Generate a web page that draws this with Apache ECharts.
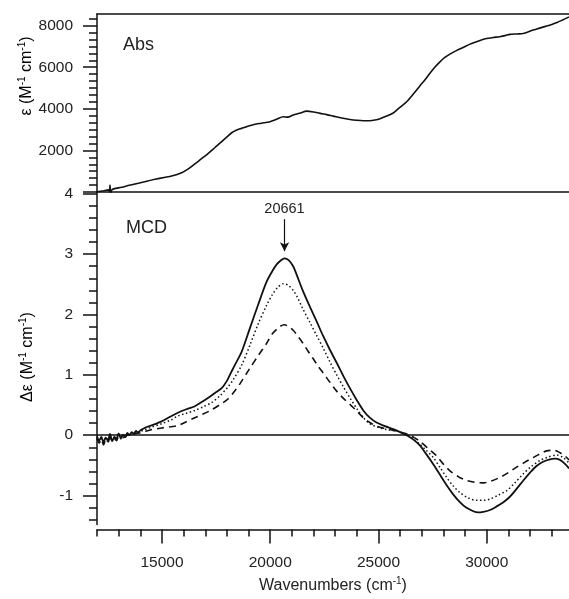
<!DOCTYPE html>
<html><head><meta charset="utf-8">
<script src="https://cdn.jsdelivr.net/npm/echarts@6/dist/echarts.min.js"></script>
<style>html,body{margin:0;padding:0;background:#fff}#c{width:569px;height:599px}</style>
</head><body><div id="c"></div>
<script>
// ---- data (wavenumber cm-1, value) ----
const absData = [[12000,10],[12300,60],[12520,100],[12580,30],[12600,340],[12630,-120],[12700,120],[13140,225],[13500,320],[13910,420],[14300,520],[14680,610],[15100,700],[15450,770],[15910,930],[16200,1100],[16520,1350],[16800,1580],[17140,1860],[17450,2140],[17760,2420],[18000,2650],[18220,2850],[18450,2980],[18680,3060],[19000,3170],[19260,3250],[19600,3310],[19990,3380],[20300,3500],[20600,3620],[20800,3600],[21060,3700],[21400,3800],[21680,3890],[22000,3850],[22300,3780],[22600,3720],[22910,3650],[23300,3560],[23680,3490],[24000,3450],[24300,3430],[24600,3430],[24840,3460],[25070,3520],[25380,3650],[25680,3800],[25840,3940],[26050,4120],[26300,4340],[26600,4700],[26910,5100],[27150,5400],[27370,5700],[27600,6000],[27840,6260],[28050,6460],[28300,6630],[28600,6800],[28910,6950],[29200,7100],[29530,7230],[29750,7310],[29990,7380],[30300,7430],[30600,7470],[30850,7520],[31070,7580],[31400,7600],[31680,7620],[31900,7700],[32140,7790],[32450,7880],[32760,7980],[33000,8060],[33220,8140],[33500,8270],[33800,8420]];

const mcdSolid = [[12000,-0.02],[12100,-0.09],[12200,-0.03],[12300,-0.12],[12400,-0.04],[12500,-0.08],[12600,0.02],[12700,-0.10],[12800,-0.03],[12900,-0.06],[13000,0.03],[13100,-0.05],[13200,0.01],[13300,-0.03],[13400,0.04],[13500,0.00],[13600,0.05],[13700,0.02],[13800,0.07],[13900,0.04],[14000,0.08],[14200,0.12],[14500,0.16],[14990,0.23],[15400,0.31],[15910,0.40],[16200,0.44],[16520,0.48],[16800,0.54],[17140,0.62],[17450,0.70],[17760,0.78],[18000,0.90],[18220,1.06],[18450,1.22],[18680,1.38],[19060,1.77],[19450,2.17],[19830,2.54],[20100,2.72],[20300,2.83],[20500,2.90],[20661,2.93],[20850,2.90],[21060,2.80],[21220,2.66],[21500,2.40],[21830,2.13],[22150,1.88],[22450,1.64],[22750,1.42],[23070,1.20],[23380,0.98],[23680,0.78],[24000,0.58],[24300,0.41],[24600,0.29],[24910,0.21],[25300,0.15],[25680,0.10],[26000,0.05],[26300,0.00],[26600,-0.07],[26910,-0.17],[27200,-0.31],[27530,-0.48],[27850,-0.66],[28150,-0.83],[28450,-0.98],[28760,-1.11],[29050,-1.20],[29380,-1.26],[29600,-1.28],[29840,-1.27],[30150,-1.24],[30460,-1.18],[30770,-1.11],[31070,-1.02],[31380,-0.89],[31690,-0.75],[32000,-0.62],[32300,-0.51],[32600,-0.44],[32920,-0.40],[33150,-0.39],[33380,-0.41],[33600,-0.47],[33800,-0.55]];

const mcdDotted = [[12000,-0.05],[12100,-0.12],[12200,-0.06],[12300,-0.15],[12400,-0.05],[12500,-0.11],[12600,-0.02],[12700,-0.09],[12800,-0.04],[12900,-0.08],[13000,0.00],[13100,-0.06],[13200,-0.01],[13300,-0.04],[13400,0.02],[13500,-0.01],[13600,0.03],[13800,0.04],[14000,0.06],[14200,0.09],[14500,0.13],[14990,0.19],[15400,0.25],[15750,0.32],[16100,0.36],[16520,0.41],[16900,0.47],[17290,0.54],[17700,0.66],[18050,0.80],[18290,0.92],[18680,1.16],[19060,1.49],[19450,1.85],[19830,2.15],[20100,2.33],[20350,2.45],[20600,2.51],[20850,2.48],[21060,2.40],[21220,2.31],[21500,2.10],[21830,1.87],[22150,1.65],[22450,1.44],[22750,1.22],[23070,1.00],[23380,0.80],[23680,0.62],[24000,0.44],[24300,0.29],[24600,0.19],[25070,0.12],[25450,0.09],[25840,0.07],[26100,0.04],[26360,0.00],[26600,-0.06],[26910,-0.15],[27200,-0.25],[27530,-0.37],[27850,-0.54],[28150,-0.70],[28450,-0.84],[28760,-0.95],[29150,-1.04],[29530,-1.08],[29850,-1.08],[30150,-1.06],[30500,-1.00],[30920,-0.92],[31300,-0.79],[31690,-0.64],[32050,-0.52],[32460,-0.42],[32850,-0.36],[33230,-0.33],[33530,-0.37],[33800,-0.46]];

const mcdDashed = [[12000,-0.06],[12100,-0.13],[12200,-0.07],[12300,-0.16],[12400,-0.08],[12500,-0.12],[12600,-0.04],[12700,-0.10],[12800,-0.06],[12900,-0.09],[13000,-0.02],[13200,-0.04],[13400,0.00],[13600,0.01],[13800,0.03],[14000,0.04],[14200,0.06],[14500,0.09],[14990,0.12],[15400,0.14],[15750,0.16],[16100,0.22],[16520,0.29],[16900,0.35],[17290,0.42],[17700,0.51],[18050,0.60],[18290,0.70],[18600,0.85],[19060,1.11],[19450,1.32],[19830,1.52],[20100,1.68],[20450,1.80],[20650,1.83],[20850,1.80],[21060,1.74],[21300,1.63],[21520,1.52],[21750,1.39],[21980,1.27],[22200,1.15],[22450,1.03],[22750,0.88],[23070,0.73],[23380,0.61],[23680,0.51],[24000,0.40],[24300,0.29],[24600,0.21],[24910,0.15],[25300,0.11],[25680,0.08],[26000,0.05],[26400,0.01],[26650,-0.04],[26910,-0.10],[27300,-0.22],[27680,-0.34],[28000,-0.48],[28300,-0.59],[28700,-0.69],[29070,-0.75],[29450,-0.78],[29840,-0.79],[30200,-0.76],[30610,-0.70],[31000,-0.62],[31380,-0.53],[31750,-0.45],[32150,-0.37],[32450,-0.31],[32760,-0.26],[33100,-0.25],[33380,-0.29],[33600,-0.34],[33800,-0.41]];

const peakPos = 20661;
const xMajorTicks = [15000, 20000, 25000, 30000];
const absMajorTicks = [0, 2000, 4000, 6000, 8000];
const absTickLabels = [2000, 4000, 6000, 8000];
const mcdMajorTicks = [-1, 0, 1, 2, 3, 4];

// minor tick positions
const xMinor = []; for (let v = 12000; v <= 33800; v += 1000) xMinor.push(v);
const absMinor = []; for (let i = 0; i * 2000 / 6 <= 8560; i++) absMinor.push(i * 2000 / 6);
const mcdMinor = []; for (let i = -7; i <= 20; i++) mcdMinor.push(+(i * 0.2).toFixed(2));

const FONT = 'Liberation Sans, Arial, sans-serif';
const TXT = '#222';
const plain = v => String(v);
const axisLine = {show: true, onZero: false, lineStyle: {color: '#111', width: 1.5}};
const noLine = {show: false, onZero: false};

const chart = echarts.init(document.getElementById('c'), null, {renderer: 'canvas'});
const nameRich = {
  a: {fontSize: 16, fontFamily: FONT, color: TXT, lineHeight: 19},
  b: {fontSize: 10, fontFamily: FONT, color: TXT, verticalAlign: 'top', lineHeight: 12}
};
const option = {
  animation: false,
  backgroundColor: '#fff',
  grid: [
    {left: 97, right: 0, top: 14, height: 178},
    {left: 97, right: 0, top: 192, height: 335}
  ],
  xAxis: [
    {gridIndex: 0, type: 'value', min: 12000, max: 33800, position: 'bottom', axisLine, axisTick: {show: false}, axisLabel: {show: false}, splitLine: {show: false}},
    {gridIndex: 0, type: 'value', min: 12000, max: 33800, position: 'top', axisLine, axisTick: {show: false}, axisLabel: {show: false}, splitLine: {show: false}},
    {gridIndex: 1, type: 'value', min: 12000, max: 33800, position: 'bottom', offset: 5, axisLine,
      axisTick: {show: true, customValues: xMajorTicks, length: 14, lineStyle: {color: '#111', width: 1.5}},
      axisLabel: {show: true, customValues: xMajorTicks, formatter: plain, margin: 25, fontSize: 15.5, fontFamily: FONT, color: TXT},
      splitLine: {show: false},
      name: '{a|Wavenumbers (cm}{b|-1}{a|)}', nameLocation: 'middle', nameGap: 47,
      nameTextStyle: {rich: nameRich}
    },
    {gridIndex: 1, type: 'value', min: 12000, max: 33800, position: 'bottom', offset: 5, axisLine: noLine,
      axisTick: {show: true, customValues: xMinor, length: 7, lineStyle: {color: '#111', width: 1.5}},
      axisLabel: {show: false}, splitLine: {show: false}}
  ],
  yAxis: [
    {gridIndex: 0, type: 'value', min: 0, max: 8560, position: 'left', axisLine,
      axisTick: {show: true, customValues: absMajorTicks, length: 14, lineStyle: {color: '#111', width: 1.5}},
      axisLabel: {show: true, customValues: absTickLabels, formatter: plain, margin: 24, fontSize: 15.5, fontFamily: FONT, color: TXT},
      splitLine: {show: false}},
    {gridIndex: 0, type: 'value', min: 0, max: 8560, position: 'left', axisLine: noLine,
      axisTick: {show: true, customValues: absMinor, length: 8, lineStyle: {color: '#111', width: 1.5}},
      axisLabel: {show: false}, splitLine: {show: false}},
    {gridIndex: 1, type: 'value', min: -1.48, max: 4.03, position: 'left', axisLine,
      axisTick: {show: true, customValues: mcdMajorTicks, length: 14, lineStyle: {color: '#111', width: 1.5}},
      axisLabel: {show: true, customValues: mcdMajorTicks, formatter: plain, margin: 24, fontSize: 15.5, fontFamily: FONT, color: TXT},
      splitLine: {show: false}},
    {gridIndex: 1, type: 'value', min: -1.48, max: 4.03, position: 'left', axisLine: noLine,
      axisTick: {show: true, customValues: mcdMinor, length: 8, lineStyle: {color: '#111', width: 1.5}},
      axisLabel: {show: false}, splitLine: {show: false}}
  ],
  series: [
    {type: 'line', name: 'Abs', xAxisIndex: 0, yAxisIndex: 0, data: absData, showSymbol: false, smooth: 0.3,
      lineStyle: {color: '#111', width: 1.6}, clip: true},
    {type: 'line', name: 'MCD solid', xAxisIndex: 2, yAxisIndex: 2, data: mcdSolid, showSymbol: false, smooth: 0.3,
      lineStyle: {color: '#111', width: 1.8}, clip: true,
      markLine: {silent: true, animation: false, symbol: ['none', 'none'],
        label: {show: false},
        lineStyle: {color: '#111', width: 1.5, type: 'solid'},
        data: [{yAxis: 0}]}},
    {type: 'line', name: 'MCD dotted', xAxisIndex: 2, yAxisIndex: 2, data: mcdDotted, showSymbol: false, smooth: 0.3,
      lineStyle: {color: '#111', width: 1.5, type: [1.5, 2.5]}, clip: true},
    {type: 'line', name: 'MCD dashed', xAxisIndex: 2, yAxisIndex: 2, data: mcdDashed, showSymbol: false, smooth: 0.3,
      lineStyle: {color: '#111', width: 1.6, type: [7, 5]}, clip: true,
      markLine: {silent: true, animation: false, symbol: ['none', 'arrow'], symbolSize: [7, 9],
        lineStyle: {color: '#111', width: 1.2, type: 'solid'},
        label: {show: true, position: 'start', formatter: String(peakPos), fontSize: 14.5, fontFamily: FONT, color: TXT, distance: 3},
        data: [[{coord: [peakPos, 3.58]}, {coord: [peakPos, 3.05]}]]}}
  ],
  graphic: [
    {type: 'text', left: 123, top: 36, style: {text: 'Abs', font: '18px ' + FONT, fill: TXT}},
    {type: 'text', left: 126, top: 219, style: {text: 'MCD', font: '18px ' + FONT, fill: TXT}},
    {type: 'text', x: 27, y: 76, rotation: Math.PI / 2,
      style: {text: '{a|ε (M}{b|-1}{a| cm}{b|-1}{a|)}', align: 'center', verticalAlign: 'middle', rich: nameRich}},
    {type: 'text', x: 28, y: 357, rotation: Math.PI / 2,
      style: {text: '{a|Δε (M}{b|-1}{a| cm}{b|-1}{a|)}', align: 'center', verticalAlign: 'middle', rich: nameRich}}
  ]
};
chart.setOption(option);
</script></body></html>
